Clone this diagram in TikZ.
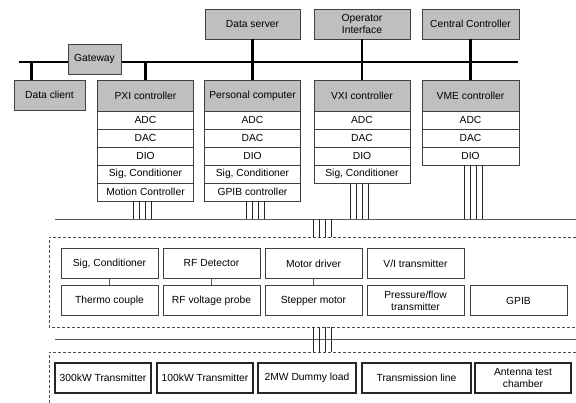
\documentclass[tikz,border=0pt]{standalone}
\usepackage{fontspec}
\setmainfont{Liberation Sans}
\usetikzlibrary{positioning}

\begin{document}
\begin{tikzpicture}[x=1pt,y=-1pt,font=\fontsize{10.3}{12}\selectfont,
      box/.style={draw=black!75,minimum height=30pt,inner sep=1pt,outer sep=0pt,align=center},
      gbox/.style={box,fill=black!25},
      head/.style={gbox,minimum width=96pt,minimum height=31pt},
      cell/.style={box,minimum width=96pt,minimum height=18pt},
      dev/.style={box,minimum width=97pt},
      load/.style={box,line width=1.3pt,draw=black!85},
      bus/.style={line width=2.6pt},
      tap/.style={line width=2.2pt},
      wire/.style={draw=black!65,semithick},
      bundle/.style={draw=black!85,thin},
      group/.style={draw=black!70,dash pattern=on 3pt off 2pt}]
\useasboundingbox (0,0) rectangle (576,403);

% network
\coordinate (netL) at (19,62);
\coordinate (netR) at (518,62);
\draw[bus] (netL) -- (netR);

\node[gbox,minimum width=53pt] (gw) at (94.5,59) {Gateway};
\node[gbox,minimum width=95pt] (ds) at (252.5,24) {Data server};
\node[gbox,minimum width=96pt] (oi) at (362,24) {Operator\\Interface};
\node[gbox,minimum width=97pt] (cc) at (470.5,24) {Central Controller};
\node[gbox,minimum width=71pt] (dc) at (49.5,95) {Data client};

% controllers
\node[head] (pxi) at (145.5,95.5) {PXI controller};
\node[cell,below=0pt of pxi] (pxi1) {ADC};
\node[cell,below=0pt of pxi1] (pxi2) {DAC};
\node[cell,below=0pt of pxi2] (pxi3) {DIO};
\node[cell,below=0pt of pxi3] (pxi4) {Sig, Conditioner};
\node[cell,below=0pt of pxi4] (pxi5) {Motion Controller};

\node[head] (pc) at (252.5,95.5) {Personal computer};
\node[cell,below=0pt of pc] (pc1) {ADC};
\node[cell,below=0pt of pc1] (pc2) {DAC};
\node[cell,below=0pt of pc2] (pc3) {DIO};
\node[cell,below=0pt of pc3] (pc4) {Sig, Conditioner};
\node[cell,below=0pt of pc4] (pc5) {GPIB controller};

\node[head] (vxi) at (362,95.5) {VXI controller};
\node[cell,below=0pt of vxi] (vxi1) {ADC};
\node[cell,below=0pt of vxi1] (vxi2) {DAC};
\node[cell,below=0pt of vxi2] (vxi3) {DIO};
\node[cell,below=0pt of vxi3] (vxi4) {Sig, Conditioner};

\node[head,minimum width=97pt] (vme) at (470.5,95.5) {VME controller};
\node[cell,minimum width=97pt,below=0pt of vme] (vme1) {ADC};
\node[cell,minimum width=97pt,below=0pt of vme1] (vme2) {DAC};
\node[cell,minimum width=97pt,below=0pt of vme2] (vme3) {DIO};

\draw[tap] ([xshift=-18pt]dc.north) -- ([xshift=-18pt]dc.north |- netL);
\draw[tap] (pxi.north) -- (pxi.north |- netL);
\draw[tap] (ds.south) -- (pc.north);
\draw[tap] (oi.south) -- (vxi.north);
\draw[tap] (cc.south) -- (vme.north);

% field bus
\coordinate (fbL) at (55,219);
\coordinate (fbR) at (576,219);
\draw[wire] (fbL) -- (fbR);
\foreach \n/\o in {pxi5/-12,pc5/-6,vxi4/-12,vme3/-6}
  \foreach \d in {0,6,12,18}
    \draw[bundle] ([xshift={(\o+\d)*1pt}]\n.south) -- ([xshift={(\o+\d)*1pt}]\n.south |- fbL);

% sensors
\coordinate (sgT) at (49,237);
\coordinate (sgB) at (49,327);
\draw[group] (sgT -| fbR) -- (sgT) -- (sgB) -- (sgB -| fbR);

\node[dev] (sc) at (109.5,263.5) {Sig, Conditioner};
\node[dev,right=5pt of sc] (rfd) {RF Detector};
\node[dev,right=5pt of rfd] (md) {Motor driver};
\node[dev,right=5pt of md] (vi) {V/I transmitter};
\node[dev,below=7pt of sc] (tc) {Thermo couple};
\node[dev,below=7pt of rfd] (rfp) {RF voltage probe};
\node[dev,below=7pt of md] (sm) {Stepper motor};
\node[dev,below=7pt of vi] (pf) {Pressure/flow\\transmitter};
\node[dev,right=6pt of pf] (gpib) {GPIB};

\draw[wire] (sc) -- (tc);
\draw[wire] (rfd) -- (rfp);
\draw[wire] (md) -- (sm);

\foreach \d in {0,6,12,18}
  \draw[bundle] ([xshift=\d*1pt]md.north |- fbL) -- ([xshift=\d*1pt]md.north |- sgT);

% loads
\coordinate (lbL) at (55,339);
\coordinate (lbR) at (576,339);
\draw[wire] (lbL) -- (lbR);
\coordinate (lgT) at (49,352);
\coordinate (lgB) at (49,410);
\draw[group] (lgT -| lbR) -- (lgT) -- (lgB);

\foreach \d in {0,6,12,18}
  \draw[bundle] ([xshift=\d*1pt]md.north |- sgB) -- ([xshift=\d*1pt]md.north |- lgT);

\node[load,minimum width=96pt] (t300) at (103,378) {300kW Transmitter};
\node[load,minimum width=96pt,right=6pt of t300] (t100) {100kW Transmitter};
\node[load,minimum width=98pt,right=5pt of t100] (dummy) {2MW Dummy load};
\node[load,minimum width=109pt,right=6pt of dummy] (tline) {Transmission line};
\node[load,minimum width=96pt,right=4pt of tline] (ant) {Antenna test\\chamber};
\end{tikzpicture}
\end{document}
